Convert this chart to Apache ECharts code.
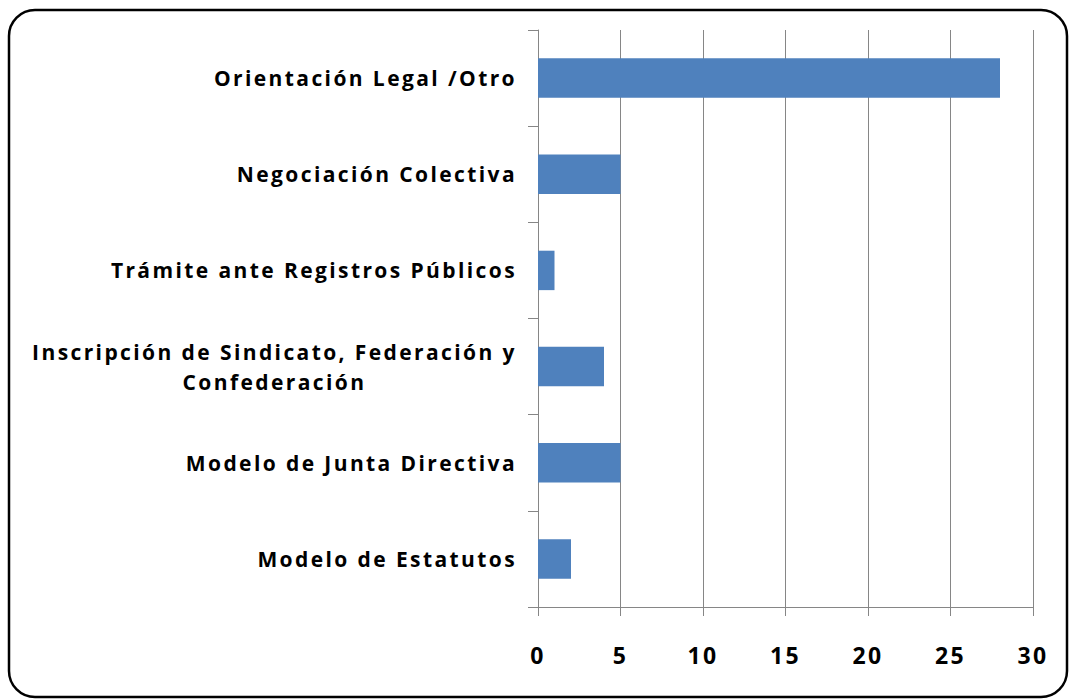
<!DOCTYPE html>
<html><head><meta charset="utf-8">
<script src="https://cdn.jsdelivr.net/npm/echarts@6/dist/echarts.min.js"></script>
<style>html,body{margin:0;padding:0;background:#fff}#c{width:1069px;height:700px}
#c svg text{letter-spacing:2.4px}
</style>
</head><body><div id="c"></div>
<script>
const categories = ['Modelo de Estatutos','Modelo de Junta Directiva','Inscripción de Sindicato, Federación y Confederación','Trámite ante Registros Públicos','Negociación Colectiva','Orientación Legal /Otro'];
const values = [2,5,4,1,5,28];
const xTicks = [0,5,10,15,20,25,30];

const LS = 2.4;
const labelFont = 'bold 21px "Open Sans"';
const mc = document.createElement('canvas').getContext('2d');
mc.font = labelFont;
const wrapped = {'Inscripción de Sindicato, Federación y Confederación':['Inscripción de Sindicato, Federación y','Confederación']};
const firstLine = wrapped['Inscripción de Sindicato, Federación y Confederación'][0];
const w1 = Math.ceil(mc.measureText(firstLine).width + LS*firstLine.length);

const chart = echarts.init(document.getElementById('c'), null, {renderer:'svg'});
chart.setOption({
  animation:false,
  grid:{left:538,right:36,top:30,bottom:93},
  graphic:[{type:'rect',shape:{x:9,y:10,width:1058,height:687,r:26},style:{fill:'none',stroke:'#000',lineWidth:2.5},z:100}],
  xAxis:{type:'value',min:0,max:30,interval:5,
    axisLine:{show:true,lineStyle:{color:'#868686'}},
    axisTick:{show:true,length:9,lineStyle:{color:'#868686'}},
    splitLine:{show:true,lineStyle:{color:'#868686'}},
    axisLabel:{margin:36,color:'#000',fontFamily:'Open Sans',fontWeight:'bold',fontSize:23,
      formatter:v=>xTicks.includes(v)?String(v):''}},
  yAxis:{type:'category',data:categories,
    axisLine:{show:true,lineStyle:{color:'#868686'}},
    axisTick:{show:true,length:10,lineStyle:{color:'#868686'}},
    axisLabel:{margin:21,color:'#000',fontFamily:'Open Sans',fontWeight:'bold',fontSize:21,lineHeight:30,
      formatter:function(v){
        if(wrapped[v]){return wrapped[v].map(s=>'{c|'+s+'}').join('\n');}
        return v;
      },
      rich:{c:{width:w1,align:'center',fontFamily:'Open Sans',fontWeight:'bold',fontSize:21,color:'#000',lineHeight:30}}
    }},
  series:[{type:'bar',data:values,barCategoryGap:'59%',itemStyle:{color:'#4F81BD'}}]
});
</script></body></html>
